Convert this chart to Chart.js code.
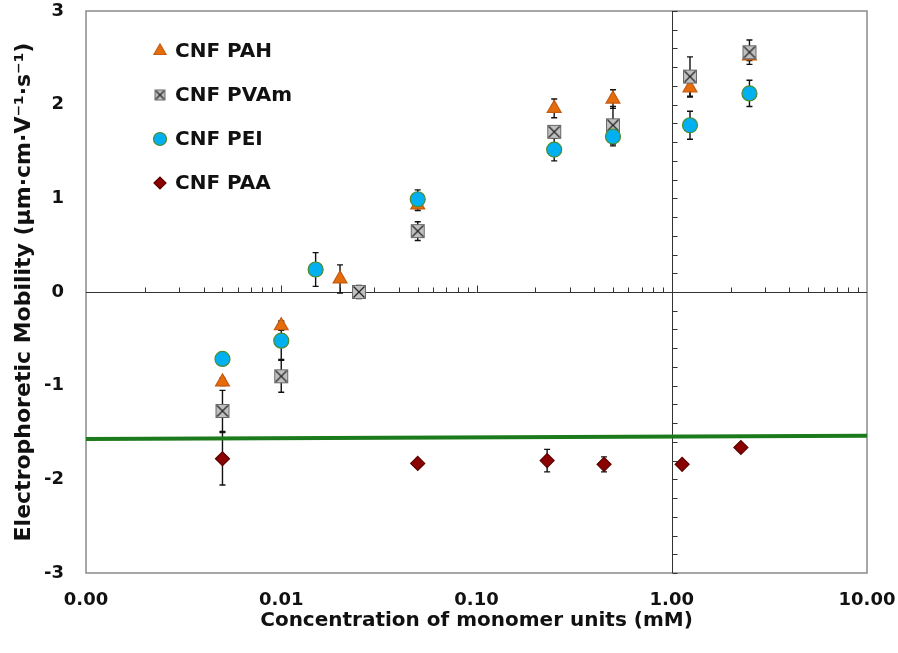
<!DOCTYPE html>
<html>
<head>
<meta charset="utf-8">
<script src="https://cdn.jsdelivr.net/npm/chart.js@4.4.0/dist/chart.umd.min.js"></script>
<style>
  body { margin: 0; background: #fff; }
  #wrap { width: 898px; height: 653px; }
</style>
</head>
<body>
<div id="wrap"><canvas id="canvas"></canvas></div>
<script>
// values
var pahX   = [0.005, 0.01, 0.02, 0.05, 0.25, 0.5, 1.24, 2.5];
var pahY   = [-0.96, -0.36, 0.14, 0.93, 1.96, 2.06, 2.18, 2.52];
var pahErr = [0.04, 0.05, 0.15, 0.06, 0.10, 0.10, 0.10, 0.05];

var pvamX   = [0.005, 0.01, 0.025, 0.05, 0.25, 0.5, 1.24, 2.5];
var pvamY   = [-1.27, -0.90, 0.00, 0.65, 1.71, 1.78, 2.30, 2.56];
var pvamErr = [0.22, 0.17, 0.07, 0.10, 0.06, 0.20, 0.21, 0.13];

var peiX   = [0.005, 0.01, 0.015, 0.05, 0.25, 0.5, 1.24, 2.5];
var peiY   = [-0.715, -0.52, 0.24, 0.99, 1.52, 1.66, 1.78, 2.12];
var peiErr = [0.03, 0.20, 0.18, 0.10, 0.12, 0.10, 0.15, 0.14];

var paaX   = [0.005, 0.05, 0.23, 0.45, 1.13, 2.26];
var paaY   = [-1.78, -1.83, -1.80, -1.84, -1.84, -1.66];
var paaErr = [0.28, 0.03, 0.12, 0.08, 0.03, 0.03];

var refLineX = [0.001, 10];
var refLineY = [-1.57, -1.535];

var xTicks = [0.001, 0.01, 0.1, 1, 10];
var xTickLabels = ['0.00', '0.01', '0.10', '1.00', '10.00'];

var xTitle = 'Concentration of monomer units (mM)';
// µm·cm·V⁻¹·s⁻¹
var yTitle = 'Electrophoretic Mobility (\u00b5m\u00b7cm\u00b7V\u207b\u00b9\u00b7s\u207b\u00b9)';

var FONT = '"DejaVu Sans"';

var toPts = (xs, ys) => xs.map((x, i) => ({x: x, y: ys[i]}));

function boxX(size) {
  var c = document.createElement('canvas');
  c.width = c.height = size;
  var g = c.getContext('2d');
  g.fillStyle = '#c0c0c0';
  g.fillRect(1, 1, size - 2, size - 2);
  g.strokeStyle = '#6a6a6a';
  g.lineWidth = 1;
  g.strokeRect(1.5, 1.5, size - 3, size - 3);
  g.strokeStyle = '#262626';
  g.lineWidth = 1.3;
  g.beginPath();
  g.moveTo(2.5, 2.5); g.lineTo(size - 2.5, size - 2.5);
  g.moveTo(size - 2.5, 2.5); g.lineTo(2.5, size - 2.5);
  g.stroke();
  return c;
}

var series = [
  {label: 'CNF PAH', x: pahX, y: pahY, err: pahErr, style: 'triangle', r: 8, fill: '#e46c0a', line: '#c55a11', lr: 7, order: 3},
  {label: 'CNF PVAm', x: pvamX, y: pvamY, err: pvamErr, style: boxX(16), r: 8, fill: '#c0c0c0', line: '#6a6a6a', lr: 7, order: 2, legendStyle: boxX(13)},
  {label: 'CNF PEI', x: peiX, y: peiY, err: peiErr, style: 'circle', r: 7.5, fill: '#00b0f0', line: '#4e8a2e', lr: 6.5, order: 1},
  {label: 'CNF PAA', x: paaX, y: paaY, err: paaErr, style: 'rectRot', r: 7, fill: '#8b0000', line: '#5c0000', lr: 6, order: 4}
];

var datasets = series.map(s => ({
  type: 'scatter',
  label: s.label,
  data: toPts(s.x, s.y),
  err: s.err,
  pointStyle: s.style,
  pointRadius: s.r,
  backgroundColor: s.fill,
  borderColor: s.line,
  borderWidth: 1.2,
  order: s.order
}));

datasets.push({
  type: 'line',
  label: 'ref',
  data: toPts(refLineX, refLineY),
  borderColor: '#1b7a1b',
  borderWidth: 4,
  pointRadius: 0,
  order: 5
});

// frame, the crossing axes at y=0 and x=1 and the error bars
var framePlugin = {
  id: 'framePlugin',
  beforeDatasetsDraw(chart) {
    var ctx = chart.ctx, a = chart.chartArea;
    var xs = chart.scales.x, ys = chart.scales.y;
    ctx.save();
    ctx.strokeStyle = '#8a8a8a';
    ctx.lineWidth = 1.5;
    ctx.strokeRect(a.left, a.top, a.right - a.left, a.bottom - a.top);

    // horizontal axis at y = 0
    var y0 = Math.round(ys.getPixelForValue(0)) + 0.5;
    ctx.strokeStyle = '#333';
    ctx.lineWidth = 1;
    ctx.beginPath();
    ctx.moveTo(a.left, y0); ctx.lineTo(a.right, y0);
    for (var d = 0.001; d < 10; d *= 10) {
      for (var m = 1; m <= 9; m++) {
        var px = Math.round(xs.getPixelForValue(d * m)) + 0.5;
        if (px <= a.left + 1) continue;
        ctx.moveTo(px, y0);
        ctx.lineTo(px, y0 - (m === 1 ? 7 : 5));
      }
    }
    ctx.stroke();

    // vertical axis at x = 1
    var x1 = Math.round(xs.getPixelForValue(1)) + 0.5;
    ctx.beginPath();
    ctx.moveTo(x1, a.top); ctx.lineTo(x1, a.bottom);
    for (var k = -15; k <= 15; k++) {
      var py = Math.round(ys.getPixelForValue(k / 5)) + 0.5;
      ctx.moveTo(x1, py);
      ctx.lineTo(x1 + 5, py);
    }
    ctx.stroke();

    // error bars
    ctx.strokeStyle = '#111';
    ctx.lineWidth = 1.4;
    chart.data.datasets.forEach(ds => {
      if (!ds.err) return;
      ds.data.forEach((p, i) => {
        var e = ds.err[i];
        var px = xs.getPixelForValue(p.x);
        var top = ys.getPixelForValue(p.y + e);
        var bot = ys.getPixelForValue(p.y - e);
        ctx.beginPath();
        ctx.moveTo(px, top); ctx.lineTo(px, bot);
        ctx.moveTo(px - 3, top); ctx.lineTo(px + 3, top);
        ctx.moveTo(px - 3, bot); ctx.lineTo(px + 3, bot);
        ctx.stroke();
      });
    });
    ctx.restore();
  }
};

// legend drawn inside the plot, top left
var legendPlugin = {
  id: 'legendPlugin',
  afterDraw(chart) {
    var ctx = chart.ctx;
    ctx.save();
    series.forEach((s, i) => {
      var cy = 51 + i * 44;
      ctx.fillStyle = s.fill;
      ctx.strokeStyle = s.line;
      ctx.lineWidth = 1.2;
      Chart.helpers.drawPoint(ctx, {pointStyle: s.legendStyle || s.style, radius: s.lr, borderWidth: 1.2, rotation: 0}, 160, cy);
      ctx.fillStyle = '#111';
      ctx.font = 'bold 20px ' + FONT;
      ctx.textBaseline = 'middle';
      ctx.fillText(s.label, 175, cy + 1);
    });
    ctx.restore();
  }
};

Chart.defaults.font.family = FONT;
Chart.defaults.font.weight = 'bold';
Chart.defaults.color = '#111';

var ctx = document.getElementById('canvas').getContext('2d');
var myChart = new Chart(ctx, {
  data: {datasets: datasets},
  options: {
    responsive: true,
    maintainAspectRatio: false,
    animation: false,
    layout: {padding: {top: 11, right: 31, left: 0, bottom: 0}},
    plugins: {legend: {display: false}, tooltip: {enabled: false}},
    scales: {
      x: {
        type: 'logarithmic',
        min: 0.001,
        max: 10,
        grid: {display: false, drawTicks: false},
        border: {display: false},
        afterBuildTicks: scale => { scale.ticks = xTicks.map(v => ({value: v})); },
        afterFit: scale => {
          scale.height = 80;
          scale.paddingLeft = 0;
          scale.paddingRight = 0;
        },
        ticks: {
          font: {size: 18, weight: 'bold'},
          padding: 17,
          maxRotation: 0,
          autoSkip: false,
          callback: (v, i) => xTickLabels[i]
        },
        title: {
          display: true,
          text: xTitle,
          font: {size: 20, weight: 'bold'},
          padding: {top: 0, bottom: 20}
        }
      },
      y: {
        min: -3,
        max: 3,
        grid: {display: false, drawTicks: false},
        border: {display: false},
        afterFit: scale => {
          scale.width = 86;
          scale.paddingTop = 0;
          scale.paddingBottom = 0;
        },
        ticks: {
          stepSize: 1,
          font: {size: 18, weight: 'bold'},
          padding: 22
        },
        title: {
          display: true,
          text: yTitle,
          font: {size: 22, weight: 'bold'},
          padding: {top: 11, bottom: 0}
        }
      }
    }
  },
  plugins: [framePlugin, legendPlugin]
});
</script>
</body>
</html>
